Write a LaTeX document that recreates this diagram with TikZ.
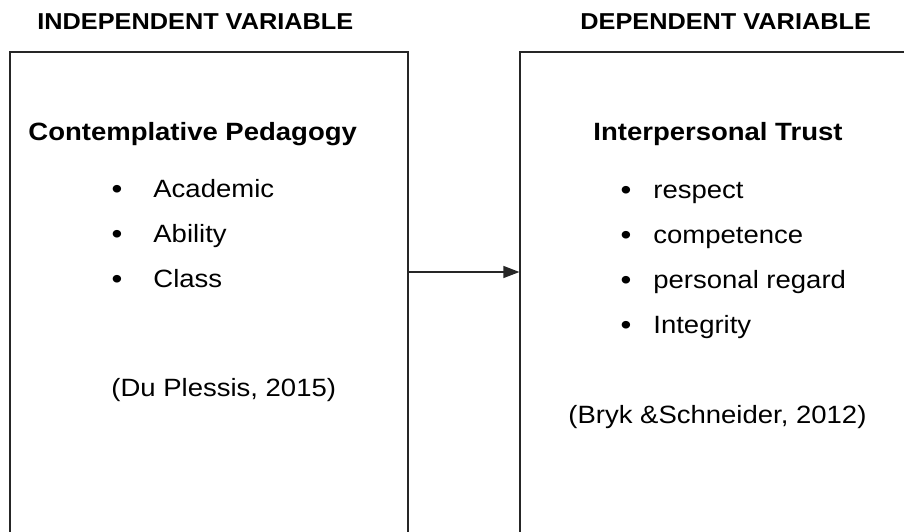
\documentclass[tikz,border=0pt]{standalone}
\usepackage{fontspec}
\setmainfont{Liberation Sans}[FakeStretch=1.1]
\usetikzlibrary{arrows.meta,fit}
\tikzset{box/.style={
    draw=black!85,
    line width=0.6pt,
    inner sep=0pt},
  head/.style={anchor=base west, inner sep=0pt, font=\fontsize{11.5}{14}\selectfont\bfseries},
  heading/.style={anchor=base west, inner sep=0pt, font=\fontsize{12.5}{15}\selectfont\bfseries},
  item/.style={anchor=base west, inner sep=0pt, font=\fontsize{12.5}{15}\selectfont},
  dot/.style={anchor=base, inner sep=0pt, font=\fontsize{14}{16}\selectfont}}

\begin{document}
\begin{tikzpicture}[x=0.5pt,y=-0.5pt]
	\clip (0,0) rectangle (904,531);
\coordinate (L1) at (10,52);
\coordinate (L2) at (408,560);
\coordinate (R1) at (520,52);
\coordinate (R2) at (930,560);
\coordinate (arr) at (0,272);

\node[box, fit=(L1) (L2)] (indep) {};
\node[box, fit=(R1) (R2)] (dep) {};

\node[head] (indephead) at (37,29) {INDEPENDENT VARIABLE};
\node[head] (dephead) at (580,29) {DEPENDENT VARIABLE};

\node[heading] (pedagogy) at (28,140) {Contemplative Pedagogy};
\node[dot] (p1) at (117,198) {\textbullet};
\node[item] (academic) at (153,197) {Academic};
\node[dot] (p2) at (117,243) {\textbullet};
\node[item] (ability) at (153,242) {Ability};
\node[dot] (p3) at (117,288) {\textbullet};
\node[item] (class) at (153,287) {Class};
\node[item] (plessis) at (111,396) {(Du Plessis, 2015)};

\node[heading] (trust) at (593,140) {Interpersonal Trust};
\node[dot] (t1) at (626,199) {\textbullet};
\node[item] (respect) at (653,198) {respect};
\node[dot] (t2) at (626,244) {\textbullet};
\node[item] (competence) at (653,243) {competence};
\node[dot] (t3) at (626,289) {\textbullet};
\node[item] (regard) at (653,288) {personal regard};
\node[dot] (t4) at (626,334) {\textbullet};
\node[item] (integrity) at (653,333) {Integrity};
\node[item] (bryk) at (568,423) {(Bryk \&Schneider, 2012)};

\path[draw=black!85, line width=0.6pt, -{Triangle[length=8pt,width=6pt]}] (indep.east |- arr) -- (dep.west |- arr);
\end{tikzpicture}
\end{document}
